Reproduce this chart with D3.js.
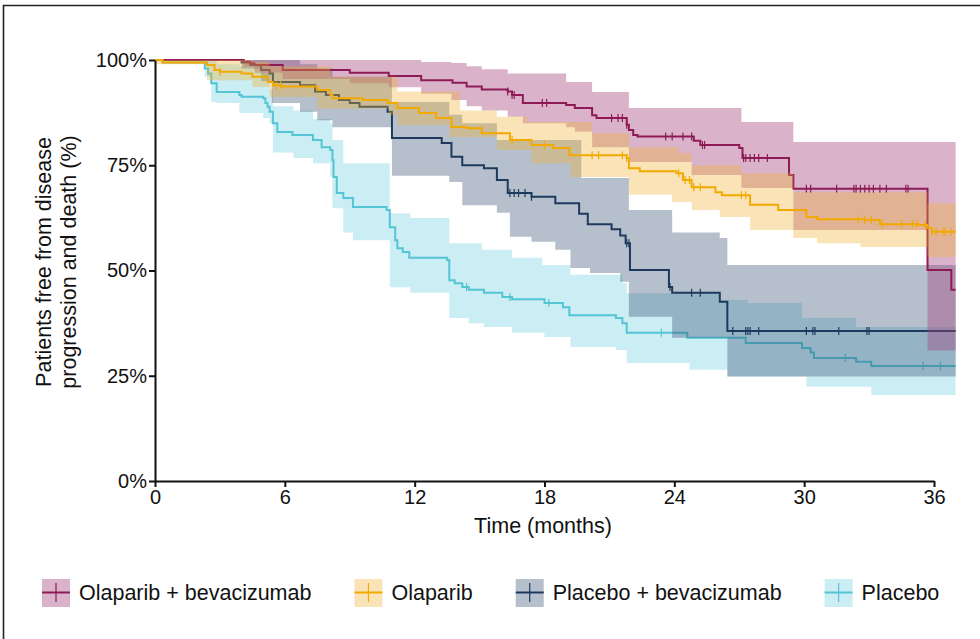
<!DOCTYPE html>
<html>
<head>
<meta charset="utf-8">
<script src="https://cdn.jsdelivr.net/npm/d3@7"></script>
<style>
  body { margin: 0; background: #fff; }
  svg { font-family: "Liberation Sans", Arial, sans-serif; }
  .axis text { font-size: 20px; fill: #111; }
  .axis path, .axis line { stroke: #111; stroke-width: 2px; }
  .axis-label { font-size: 21.5px; fill: #111; }
  .legend-text { font-size: 21.5px; fill: #111; }
</style>
</head>
<body>
<div class="chart"></div>
<script>
// Kaplan-Meier estimates (time in months, % event free)
const followUpEnd = 37.0;

const olapBevT = [0, 4.1, 4.4, 4.6, 5.9, 9.0, 10.8, 12.3, 13.75, 14.4, 15.1, 16.3, 16.5, 17.0, 19.0, 19.4, 20.2, 20.4, 21.8, 21.9, 22.1, 22.3, 24.9, 25.2, 27.0, 27.15, 29.3, 29.5, 35.7, 36.8];
const olapBevS = [100, 99.6, 99.2, 98.8, 97.6, 97.0, 96.2, 95.2, 94.6, 93.7, 93.0, 92.5, 91.7, 89.8, 89.3, 88.6, 86.9, 86.2, 84.6, 83.4, 82.2, 81.8, 80.8, 79.8, 79.1, 76.7, 72.7, 69.4, 50.1, 45.4];
const olapBevBandT = [0, 4.1, 4.6, 5.9, 9.0, 10.8, 12.3, 13.7, 14.4, 15.1, 16.3, 17.0, 19.0, 19.4, 20.2, 21.9, 24.8, 27.1, 29.5, 35.7];
const olapBevUpper = [100, 100, 100, 100, 100, 100, 99.5, 99.3, 98.5, 97.8, 96.8, 96.8, 94.8, 94.8, 92.4, 88.6, 88.6, 85.3, 80.5, 80.5];
const olapBevLower = [100, 98.5, 97, 95.5, 94.5, 93.5, 92, 90.5, 89, 88, 86.5, 85, 84, 83, 79.3, 75.8, 72.7, 69.6, 59.6, 31];
const olapBevCensor = [16.3, 16.5, 16.6, 17.9, 18.1, 21.1, 21.4, 21.6, 21.8, 23.6, 23.9, 24.4, 24.8, 25.3, 25.4, 27.2, 27.3, 27.5, 27.7, 27.9, 28.3, 30.1, 30.3, 31.5, 32.3, 32.4, 32.6, 32.8, 33.0, 33.2, 33.5, 33.8, 34.7, 34.8];

const olapT = [0, 0.35, 2.4, 2.75, 3.0, 4.0, 4.5, 5.2, 5.45, 5.85, 7.5, 8.1, 8.2, 9.6, 10.75, 11.2, 12.2, 13.0, 13.7, 14.4, 15.1, 16.4, 17.4, 18.4, 19.15, 21.8, 21.9, 22.4, 24.1, 24.4, 24.8, 25.9, 26.2, 27.5, 28.8, 30.1, 30.6, 32.8, 33.5, 35.3, 35.7, 35.9];
const olapS = [100, 99.4, 98.8, 97.6, 97.2, 96.8, 96.0, 94.8, 94.0, 93.7, 92.9, 91.7, 90.9, 90.5, 89.8, 88.6, 87.4, 86.2, 84.1, 83.8, 82.6, 81.0, 79.8, 79.1, 77.4, 76.7, 74.3, 73.6, 73.1, 71.5, 69.8, 68.6, 67.9, 65.6, 64.4, 62.7, 62.2, 62.0, 61.0, 60.8, 60.1, 59.2];
const olapBandT = [0, 2.4, 4.5, 5.3, 7.5, 8.1, 10.8, 11.2, 13.6, 14.1, 15.8, 17.2, 17.4, 19.2, 20.2, 21.9, 23.9, 24.2, 24.8, 26.1, 27.1, 27.5, 29.5, 30.6, 32.6, 35.7];
const olapUpper = [100, 100, 99.5, 98.5, 98.5, 96, 96, 92.5, 92.5, 88, 86.5, 85.3, 85.3, 85.3, 82.6, 79.3, 79.3, 77.9, 75, 75, 73.1, 73.1, 68.6, 68.6, 68.6, 66];
const olapLower = [99, 95.2, 93.6, 91.2, 88.5, 88.5, 87, 84.5, 81.7, 81.7, 78.6, 78.6, 75.5, 72.2, 72.2, 68, 66.3, 66.3, 64.4, 62.7, 62.7, 59.6, 57.7, 56.5, 55.6, 53.2];
const olapCensor = [3.0, 5.6, 5.8, 16.5, 18.0, 20.2, 20.5, 21.6, 21.8, 24.2, 24.5, 24.7, 24.9, 25.2, 27.1, 27.3, 32.5, 32.8, 33.1, 33.6, 34.5, 35.0, 35.2, 35.6, 35.9, 36.1, 36.4, 36.5, 36.8];

const pboBevT = [0, 4.0, 4.4, 4.9, 5.3, 5.45, 6.7, 7.4, 7.9, 8.5, 9.0, 9.45, 10.75, 10.95, 13.25, 13.7, 14.2, 15.2, 15.8, 16.3, 17.4, 18.5, 19.6, 20.0, 21.1, 21.5, 21.75, 21.95, 23.75, 23.9, 26.1, 26.45];
const pboBevS = [100, 99.4, 98.8, 97.6, 96.8, 94.8, 94.0, 92.5, 91.7, 90.5, 89.8, 88.9, 87.7, 81.5, 80.3, 77.0, 75.0, 74.3, 71.5, 68.4, 67.5, 66.0, 63.5, 61.0, 59.8, 58.3, 56.5, 50.1, 46.1, 44.7, 42.6, 35.6];
const pboBevBandT = [0, 4.0, 4.9, 5.4, 6.7, 7.5, 8.2, 10.95, 13.6, 14.2, 15.8, 16.4, 17.4, 18.5, 19.2, 19.7, 20.1, 21.5, 21.9, 23.9, 26.1, 26.45];
const pboBevUpper = [100, 100, 100, 100, 99, 98, 96, 90, 87, 85, 81, 81, 81, 81, 81, 72, 72, 72, 64.4, 59, 57.7, 51.3];
const pboBevLower = [100, 98, 95, 89.8, 87.7, 85.7, 84, 72.5, 71, 65.5, 63.7, 58, 56.8, 54.9, 50.6, 50.6, 49.4, 47.3, 39, 34, 34, 24.8];
const pboBevCensor = [16.4, 16.6, 16.8, 17.1, 17.4, 21.8, 21.9, 23.8, 24.8, 25.2, 26.7, 27.3, 27.4, 27.5, 27.9, 30.1, 30.4, 30.5, 31.6, 32.9, 33.0];

const pboT = [0, 0.35, 2.3, 2.45, 2.6, 2.85, 3.9, 4.0, 5.0, 5.1, 5.2, 5.3, 5.45, 5.65, 6.35, 7.3, 7.7, 8.1, 8.2, 8.25, 8.4, 8.7, 9.15, 10.7, 10.85, 11.1, 11.2, 11.45, 11.75, 13.5, 13.6, 13.85, 14.2, 14.5, 15.2, 16.05, 16.5, 18.0, 18.85, 19.15, 21.3, 21.6, 21.8, 24.6, 27.3, 29.9, 30.3, 30.45, 32.4, 33.1];
const pboS = [100, 99.4, 98.0, 96.8, 94.5, 92.4, 91.7, 91.3, 90.9, 89.8, 88.9, 87.7, 85.0, 82.9, 82.2, 81.0, 79.3, 78.6, 76.2, 72.2, 68.4, 67.2, 65.1, 64.4, 60.3, 57.2, 55.3, 54.4, 53.0, 52.5, 47.7, 47.0, 46.1, 45.4, 44.7, 43.7, 43.2, 42.3, 41.3, 39.4, 38.7, 37.5, 35.2, 34.0, 32.8, 31.6, 30.5, 29.2, 28.3, 27.3];
const pboBandT = [0, 2.3, 2.6, 2.85, 3.9, 5.0, 5.3, 5.45, 6.4, 7.3, 8.1, 8.2, 8.7, 9.15, 10.85, 11.8, 13.6, 14.5, 15.1, 15.2, 16.5, 17.9, 18.0, 19.2, 21.3, 21.6, 21.8, 24.7, 26.1, 26.45, 27.4, 29.9, 30.1, 32.4, 33.1];
const pboUpper = [100, 100, 100, 99, 98.5, 97, 93, 89, 88, 86, 85, 81, 75.5, 75.5, 63.6, 62.5, 56.5, 56.5, 54.9, 54.9, 53, 51.3, 51.3, 49, 49, 47, 44.6, 44.6, 43, 43, 42.3, 38.7, 38.7, 36.6, 36.6];
const pboLower = [100, 96, 90, 89.8, 87.4, 86.2, 85, 78, 76.7, 75.5, 72.2, 64.8, 59, 57.2, 46, 44.7, 38.7, 37.5, 37.5, 36.6, 35.2, 35.2, 34.2, 31.8, 31.1, 31.1, 28, 26.4, 26.4, 24.8, 24.8, 24.8, 22.4, 22.4, 20.4];
const pboCensor = [14.4, 16.4, 18.2, 23.4, 31.9, 35.5, 36.3];

const seriesNames = ["Olaparib + bevacizumab", "Olaparib", "Placebo + bevacizumab", "Placebo"];
const lineColours = ["#8e1b55", "#f2a900", "#1d3a5e", "#55c4d5"];
const bandColours = ["#a3417c", "#f2b230", "#2e4a6e", "#5cc8dc"];
const bandOpacity = [0.4, 0.35, 0.35, 0.32];
// stacking order of the groups: placebo at the bottom, olaparib on top
const drawOrder = [3, 2, 0, 1];

const xTicks = [0, 6, 12, 18, 24, 30, 36];
const yTicks = [0, 25, 50, 75, 100];

const series = [
    { t: olapBevT, s: olapBevS, bt: olapBevBandT, up: olapBevUpper, lo: olapBevLower, cens: olapBevCensor },
    { t: olapT, s: olapS, bt: olapBandT, up: olapUpper, lo: olapLower, cens: olapCensor },
    { t: pboBevT, s: pboBevS, bt: pboBevBandT, up: pboBevUpper, lo: pboBevLower, cens: pboBevCensor },
    { t: pboT, s: pboS, bt: pboBandT, up: pboUpper, lo: pboLower, cens: pboCensor }
];

const width = 980, height = 639;

const svg = d3.select(".chart").append("svg")
    .attr("width", width)
    .attr("height", height);

// outer frame (only the top and left edges fall inside the picture)
svg.append("path")
    .attr("d", "M3.5,639V5.5H980")
    .attr("fill", "none")
    .attr("stroke", "#222")
    .attr("stroke-width", 1.6);

const xScale = d3.scaleLinear()
    .domain([0, 36])
    .range([155, 934]);

const yScale = d3.scaleLinear()
    .domain([0, 100])
    .range([481, 60]);

const line = d3.line()
    .x(d => xScale(d[0]))
    .y(d => yScale(d[1]))
    .curve(d3.curveStepAfter);

const area = d3.area()
    .x(d => xScale(d[0]))
    .y0(d => yScale(d[2]))
    .y1(d => yScale(d[1]))
    .curve(d3.curveStepAfter);

function stepAt(ts, ss, t) {
    const i = d3.bisectRight(ts, t) - 1;
    return ss[Math.max(0, i)];
}

const plot = svg.append("g");

drawOrder.forEach(k => {
    const sr = series[k];
    const g = plot.append("g");

    const bandPts = sr.bt.map((t, i) => [t, sr.up[i], sr.lo[i]]);
    bandPts.push([followUpEnd, sr.up[sr.up.length - 1], sr.lo[sr.lo.length - 1]]);

    g.append("path")
        .datum(bandPts)
        .attr("d", area)
        .attr("fill", bandColours[k])
        .attr("fill-opacity", bandOpacity[k]);

    const pts = sr.t.map((t, i) => [t, sr.s[i]]);
    pts.push([followUpEnd, sr.s[sr.s.length - 1]]);

    g.append("path")
        .datum(pts)
        .attr("d", line)
        .attr("fill", "none")
        .attr("stroke", lineColours[k])
        .attr("stroke-width", 2);

    g.selectAll("line.censor")
        .data(sr.cens)
        .enter()
        .append("line")
        .classed("censor", true)
        .attr("x1", d => xScale(d))
        .attr("x2", d => xScale(d))
        .attr("y1", d => yScale(stepAt(sr.t, sr.s, d)) - 4)
        .attr("y2", d => yScale(stepAt(sr.t, sr.s, d)) + 4)
        .attr("stroke", lineColours[k])
        .attr("stroke-width", 1.2);
});

const xAxis = d3.axisBottom(xScale)
    .tickValues(xTicks)
    .tickSize(6)
    .tickSizeOuter(0)
    .tickPadding(3);

const yAxis = d3.axisLeft(yScale)
    .tickValues(yTicks)
    .tickFormat(d => d + "%")
    .tickSize(6)
    .tickSizeOuter(0)
    .tickPadding(2);

svg.append("g").classed("axis", true)
    .attr("transform", "translate(0,481)")
    .call(xAxis);

svg.append("g").classed("axis", true)
    .attr("transform", "translate(155,0)")
    .call(yAxis);

svg.selectAll(".axis text").attr("font-family", null).attr("font-size", null);

svg.append("text")
    .classed("axis-label", true)
    .attr("x", 543)
    .attr("y", 533)
    .attr("text-anchor", "middle")
    .text("Time (months)");

const yLab = svg.append("text")
    .classed("axis-label", true)
    .attr("transform", "translate(51,262) rotate(-90)")
    .attr("text-anchor", "middle");
yLab.append("tspan").attr("x", 0).attr("y", 0).text("Patients free from disease");
yLab.append("tspan").attr("x", 0).attr("y", 24.5).text("progression and death (%)");

// legend
const legend = svg.append("g");
let lx = 42;
seriesNames.forEach((name, k) => {
    const item = legend.append("g").attr("transform", `translate(${lx},579)`);
    item.append("rect")
        .attr("width", 28)
        .attr("height", 28)
        .attr("fill", bandColours[k])
        .attr("fill-opacity", bandOpacity[k]);
    item.append("line")
        .attr("x1", 0).attr("x2", 28)
        .attr("y1", 13.5).attr("y2", 13.5)
        .attr("stroke", lineColours[k])
        .attr("stroke-width", 2);
    item.append("line")
        .attr("x1", 14).attr("x2", 14)
        .attr("y1", 4).attr("y2", 23)
        .attr("stroke", lineColours[k])
        .attr("stroke-width", 1.2);
    const txt = item.append("text")
        .classed("legend-text", true)
        .attr("x", 37)
        .attr("y", 21)
        .text(name);
    lx += 37 + txt.node().getComputedTextLength() + 43;
});
</script>
</body>
</html>
